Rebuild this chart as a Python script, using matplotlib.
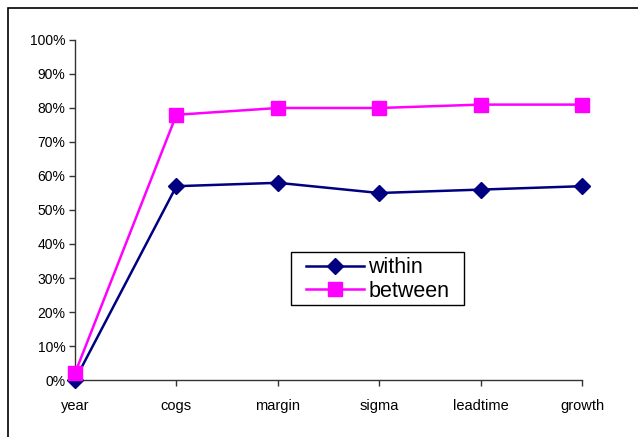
import matplotlib
matplotlib.use("Agg")
import matplotlib.pyplot as plt
from matplotlib.patches import Rectangle
from matplotlib.ticker import PercentFormatter

plt.rcParams['font.family'] = ['Liberation Sans', 'DejaVu Sans']

categories = ["year", "cogs", "margin", "sigma", "leadtime", "growth"]
within = [0.00, 0.57, 0.58, 0.55, 0.56, 0.57]
between = [0.02, 0.78, 0.80, 0.80, 0.81, 0.81]

W, H = 638, 437
fig = plt.figure(figsize=(W/100, H/100), dpi=100)
ax = fig.add_axes([75/W, 1 - 380/H, (582 - 75)/W, (380 - 40)/H])

# outer chart frame (only top/left inside the picture)
fig.patches.append(Rectangle((8/W, -0.1), 1.2, 1 - 8/H + 0.1, transform=fig.transFigure,
                             fill=False, edgecolor='black', linewidth=1.2))

x = list(range(len(categories)))
ax.plot(x, within, color='#000080', marker='D', markersize=8, linewidth=1.8,
        label='within', clip_on=False, zorder=3)
ax.plot(x, between, color='#FF00FF', marker='s', markersize=10, linewidth=1.8,
        label='between', clip_on=False, zorder=4)

ax.set_xlim(0, 5)
ax.set_ylim(0, 1)
ax.set_xticks(x)
ax.set_xticklabels(categories, fontsize=10.5)
ax.set_yticks([i / 10 for i in range(11)])
ax.yaxis.set_major_formatter(PercentFormatter(1.0, decimals=0))
ax.tick_params(axis='y', labelsize=10)
ax.tick_params(axis='both', length=4, width=1, color='#333333')
ax.tick_params(axis='x', pad=10)
ax.tick_params(axis='y', pad=3)

for side in ['top', 'right']:
    ax.spines[side].set_visible(False)
for side in ['left', 'bottom']:
    ax.spines[side].set_color('#333333')
    ax.spines[side].set_linewidth(1)

# legend box drawn separately to get Excel-like padding
fig.patches.append(Rectangle((291/W, 1 - 305/H), (464 - 291)/W, (305 - 252)/H,
                             transform=fig.transFigure, fill=True, facecolor='white',
                             edgecolor='black', linewidth=1, zorder=5))
leg = fig.legend(loc='center left', bbox_to_anchor=(306/W, 1 - 279.5/H),
                 fontsize=15.5, frameon=False, borderpad=0, labelspacing=0.1,
                 handlelength=2.7, handletextpad=0.2, borderaxespad=0)
leg.set_zorder(6)

fig.savefig("out.png", dpi=100)
